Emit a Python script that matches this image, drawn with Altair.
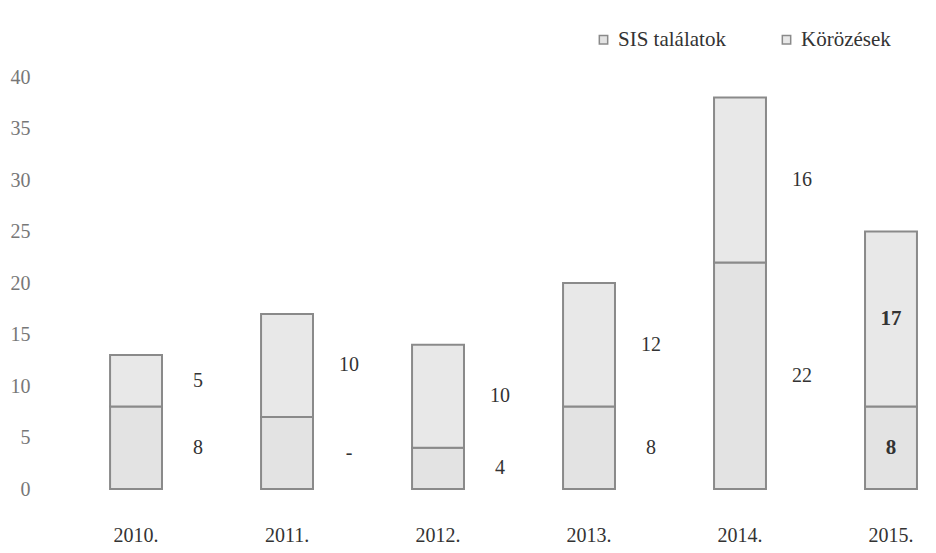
import altair as alt
import pandas as pd

years = ["2010.", "2011.", "2012.", "2013.", "2014.", "2015."]
series = ["SIS találatok", "Körözések"]
sis_values = [8, 7, 4, 8, 22, 8]
sis_labels = ["8", "-", "4", "8", "22", "8"]
koroz_values = [5, 10, 10, 12, 16, 17]
koroz_labels = ["5", "10", "10", "12", "16", "17"]
y_ticks = [0, 5, 10, 15, 20, 25, 30, 35, 40]

rows = []
for i, y in enumerate(years):
    rows.append({"year": y, "series": series[0], "order": 0, "value": sis_values[i], "label": sis_labels[i]})
    rows.append({"year": y, "series": series[1], "order": 1, "value": koroz_values[i], "label": koroz_labels[i]})
df = pd.DataFrame(rows)

FONT = "Liberation Serif"

x = alt.X("year:N", sort=years, title=None,
          scale=alt.Scale(paddingInner=0.656, paddingOuter=0.252, align=0.855),
          axis=alt.Axis(labelAngle=0, labelFont=FONT, labelFontSize=20, labelColor="#333333",
                        labelPadding=36, domain=False, ticks=False))
y = alt.Y("value:Q", title=None, stack="zero",
          scale=alt.Scale(domain=[0, 40], nice=False),
          axis=alt.Axis(values=y_ticks, grid=False, domain=False, ticks=False,
                        labelFont=FONT, labelFontSize=20, labelColor="#777777", labelPadding=15))

bars = alt.Chart(df).mark_bar(stroke="#8a8a8a", strokeWidth=2).encode(
    x=x,
    y=y,
    order=alt.Order("order:Q"),
    color=alt.Color("series:N", sort=series, title=None,
                    scale=alt.Scale(domain=series, range=["#e3e3e3", "#e8e8e8"]),
                    legend=alt.Legend(orient="none", legendX=548, legendY=-48, direction="horizontal",
                                      symbolType="square", symbolSize=70, symbolStrokeColor="#8a8a8a",
                                      symbolStrokeWidth=1.5, labelFont=FONT, labelFontSize=21,
                                      labelColor="#333333", columnPadding=50, labelLimit=300)),
)

base_text = alt.Chart(df).transform_stack(
    stack="value", groupby=["year"], as_=["v0", "v1"], sort=[alt.SortField("order", "ascending")]
).transform_calculate(mid="(datum.v0 + datum.v1) / 2")

text_side = base_text.transform_filter("datum.year != '2015.'").mark_text(
    font=FONT, fontSize=20, color="#333333", dx=62
).encode(x=alt.X("year:N", sort=years), y=alt.Y("mid:Q"), text="label:N")

text_inside = base_text.transform_filter("datum.year == '2015.'").mark_text(
    font=FONT, fontSize=21, fontWeight="bold", color="#333333"
).encode(x=alt.X("year:N", sort=years), y=alt.Y("mid:Q"), text="label:N")

chart = alt.layer(bars, text_side, text_inside).properties(
    width=883, height=412,
    autosize=alt.AutoSizeParams(type="none"),
    padding={"left": 37, "top": 69, "right": 0, "bottom": 64},
    background="white",
).configure_view(stroke=None)

chart.save("out.html", embed_options={"renderer": "svg", "actions": False})
